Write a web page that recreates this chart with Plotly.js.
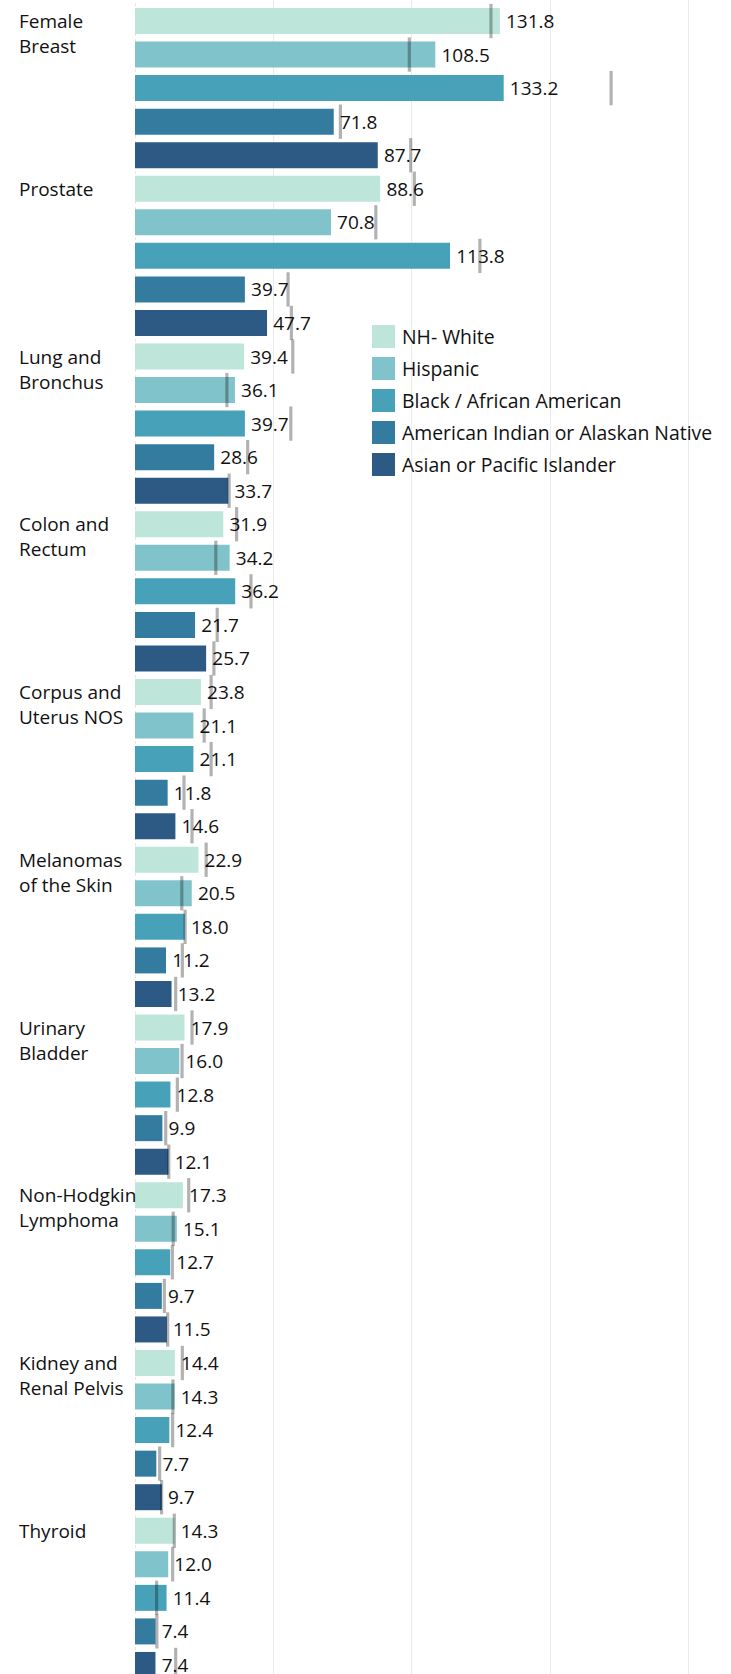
<!DOCTYPE html>
<html>
<head>
<meta charset="utf-8">
<script src="https://cdn.plot.ly/plotly-3.0.1.min.js"></script>
<style>
  html, body { margin: 0; padding: 0; background: #ffffff; overflow: hidden; }
  #chart { width: 731px; height: 1674px; }
</style>
</head>
<body>
<div id="chart"></div>
<script>
// ---------------- data ----------------
const categories = [
  "Female<br>Breast", "Prostate", "Lung and<br>Bronchus", "Colon and<br>Rectum",
  "Corpus and<br>Uterus NOS", "Melanomas<br>of the Skin", "Urinary<br>Bladder",
  "Non-Hodgkin<br>Lymphoma", "Kidney and<br>Renal Pelvis", "Thyroid"
];
const races = [
  "NH- White", "Hispanic", "Black / African American",
  "American Indian or Alaskan Native", "Asian or Pacific Islander"
];

// incidence rates per race (one value per category)
const nhWhite  = [131.8, 88.6, 39.4, 31.9, 23.8, 22.9, 17.9, 17.3, 14.4, 14.3];
const hispanic = [108.5, 70.8, 36.1, 34.2, 21.1, 20.5, 16.0, 15.1, 14.3, 12.0];
const black    = [133.2, 113.8, 39.7, 36.2, 21.1, 18.0, 12.8, 12.7, 12.4, 11.4];
const aian     = [71.8, 39.7, 28.6, 21.7, 11.8, 11.2, 9.9, 9.7, 7.7, 7.4];
const api      = [87.7, 47.7, 33.7, 25.7, 14.6, 13.2, 12.1, 11.5, 9.7, 7.4];

// reference-line values (comparison rates) per race
const nhWhiteRef  = [128.6, 100.9, 57.0, 36.7, 27.5, 25.7, 20.6, 19.4, 17.1, 14.2];
const hispanicRef = [99.1, 87.0, 33.2, 29.2, 25.0, 16.9, 17.0, 13.8, 13.7, 13.6];
const blackRef    = [172.0, 124.6, 56.3, 41.9, 27.5, 18.1, 15.3, 13.5, 13.6, 7.8];
const aianRef     = [74.2, 55.3, 40.7, 29.7, 17.7, 17.1, 11.1, 10.6, 8.9, 7.9];
const apiRef      = [99.6, 56.5, 34.0, 28.5, 20.6, 14.7, 12.2, 11.8, 9.6, 14.7];

const seriesValues = [nhWhite, hispanic, black, aian, api];
const seriesRefs   = [nhWhiteRef, hispanicRef, blackRef, aianRef, apiRef];

// ---------------- style ----------------
const raceColors = ["#bde5d9", "#81c3ca", "#47a2b9", "#347c9f", "#2d5a85"];
const FONT = "'Open Sans', 'Liberation Sans', Arial, sans-serif";
const FONT_SIZE = 19;
const LEGEND_FONT_SIZE = 19.4;

const W = 731, H = 1674;
const ML = 135;                 // left margin (px)
const PW = W - ML, PH = H;      // plot area size
const nRace = races.length;
const rowPitch = 33.55;         // px per row
const firstRowCenter = 21;      // px

const rowIndex = (c, r) => c * nRace + r;

// ---------------- traces ----------------
const traces = [];
races.forEach((race, r) => {
  traces.push({
    type: "bar",
    orientation: "h",
    name: race,
    x: seriesValues[r],
    y: categories.map((_, c) => rowIndex(c, r)),
    width: 0.775,
    marker: { color: raceColors[r], line: { width: 0 } },
    texttemplate: "\u2009%{x:.1f}",
    textposition: "outside",
    constraintext: "none",
    cliponaxis: false,
    textfont: { family: FONT, size: FONT_SIZE, color: "#111111" },
    hoverinfo: "skip",
    showlegend: false
  });
});

const refX = [], refY = [];
races.forEach((race, r) => {
  categories.forEach((_, c) => {
    refX.push(seriesRefs[r][c]);
    refY.push(rowIndex(c, r));
  });
});
traces.push({
  type: "scatter",
  mode: "markers",
  x: refX,
  y: refY,
  marker: {
    symbol: "line-ns",
    size: 24.5,
    color: "rgba(0,0,0,0.3)",
    line: { width: 3.2, color: "rgba(0,0,0,0.3)" }
  },
  hoverinfo: "skip",
  showlegend: false,
  cliponaxis: false
});

// ---------------- layout helpers ----------------
const px2x = px => (px - ML) / PW;
const px2y = py => 1 - py / PH;

const yTop = -firstRowCenter / rowPitch;
const yBottom = (PH - firstRowCenter) / rowPitch;
const xMax = PW / 2.768;

const annotations = [];
const shapes = [];

// category labels (top aligned with first row of each group)
categories.forEach((lab, c) => {
  annotations.push({
    text: lab,
    xref: "paper", x: 0, xanchor: "left", xshift: -(ML - 17),
    yref: "y", y: rowIndex(c, 0), yanchor: "top", yshift: 15,
    align: "left", showarrow: false,
    font: { family: FONT, size: FONT_SIZE, color: "#111111" }
  });
});

// zero line (dotted)
shapes.push({
  type: "line", xref: "x", x0: 0, x1: 0, yref: "paper", y0: 0, y1: 1,
  line: { color: "#cfcfcf", width: 1, dash: "dot" }, layer: "below"
});

// legend
races.forEach((race, r) => {
  const top = 325 + 32 * r;
  shapes.push({
    type: "rect", xref: "paper", yref: "paper",
    x0: px2x(372), x1: px2x(395), y0: px2y(top), y1: px2y(top + 23),
    fillcolor: raceColors[r], line: { width: 0 }, layer: "above"
  });
  annotations.push({
    text: race,
    xref: "paper", x: px2x(400), xanchor: "left",
    yref: "paper", y: px2y(top + 11.5), yanchor: "middle",
    showarrow: false, align: "left",
    font: { family: FONT, size: LEGEND_FONT_SIZE, color: "#111111" }
  });
});

const layout = {
  width: W, height: H,
  margin: { l: ML, r: 0, t: 0, b: 0, pad: 0 },
  paper_bgcolor: "#ffffff", plot_bgcolor: "#ffffff",
  font: { family: FONT, size: FONT_SIZE, color: "#111111" },
  barmode: "overlay",
  showlegend: false,
  xaxis: {
    range: [0, xMax],
    tickmode: "array", tickvals: [50, 100, 150, 200],
    showticklabels: false, ticks: "",
    showgrid: true, gridcolor: "#ebebeb", gridwidth: 1,
    zeroline: false, showline: false, fixedrange: true
  },
  yaxis: {
    range: [yBottom, yTop],
    showticklabels: false, ticks: "",
    showgrid: false, zeroline: false, showline: false, fixedrange: true
  },
  annotations: annotations,
  shapes: shapes
};

Plotly.newPlot("chart", traces, layout, { staticPlot: true, displayModeBar: false });
</script>
</body>
</html>
